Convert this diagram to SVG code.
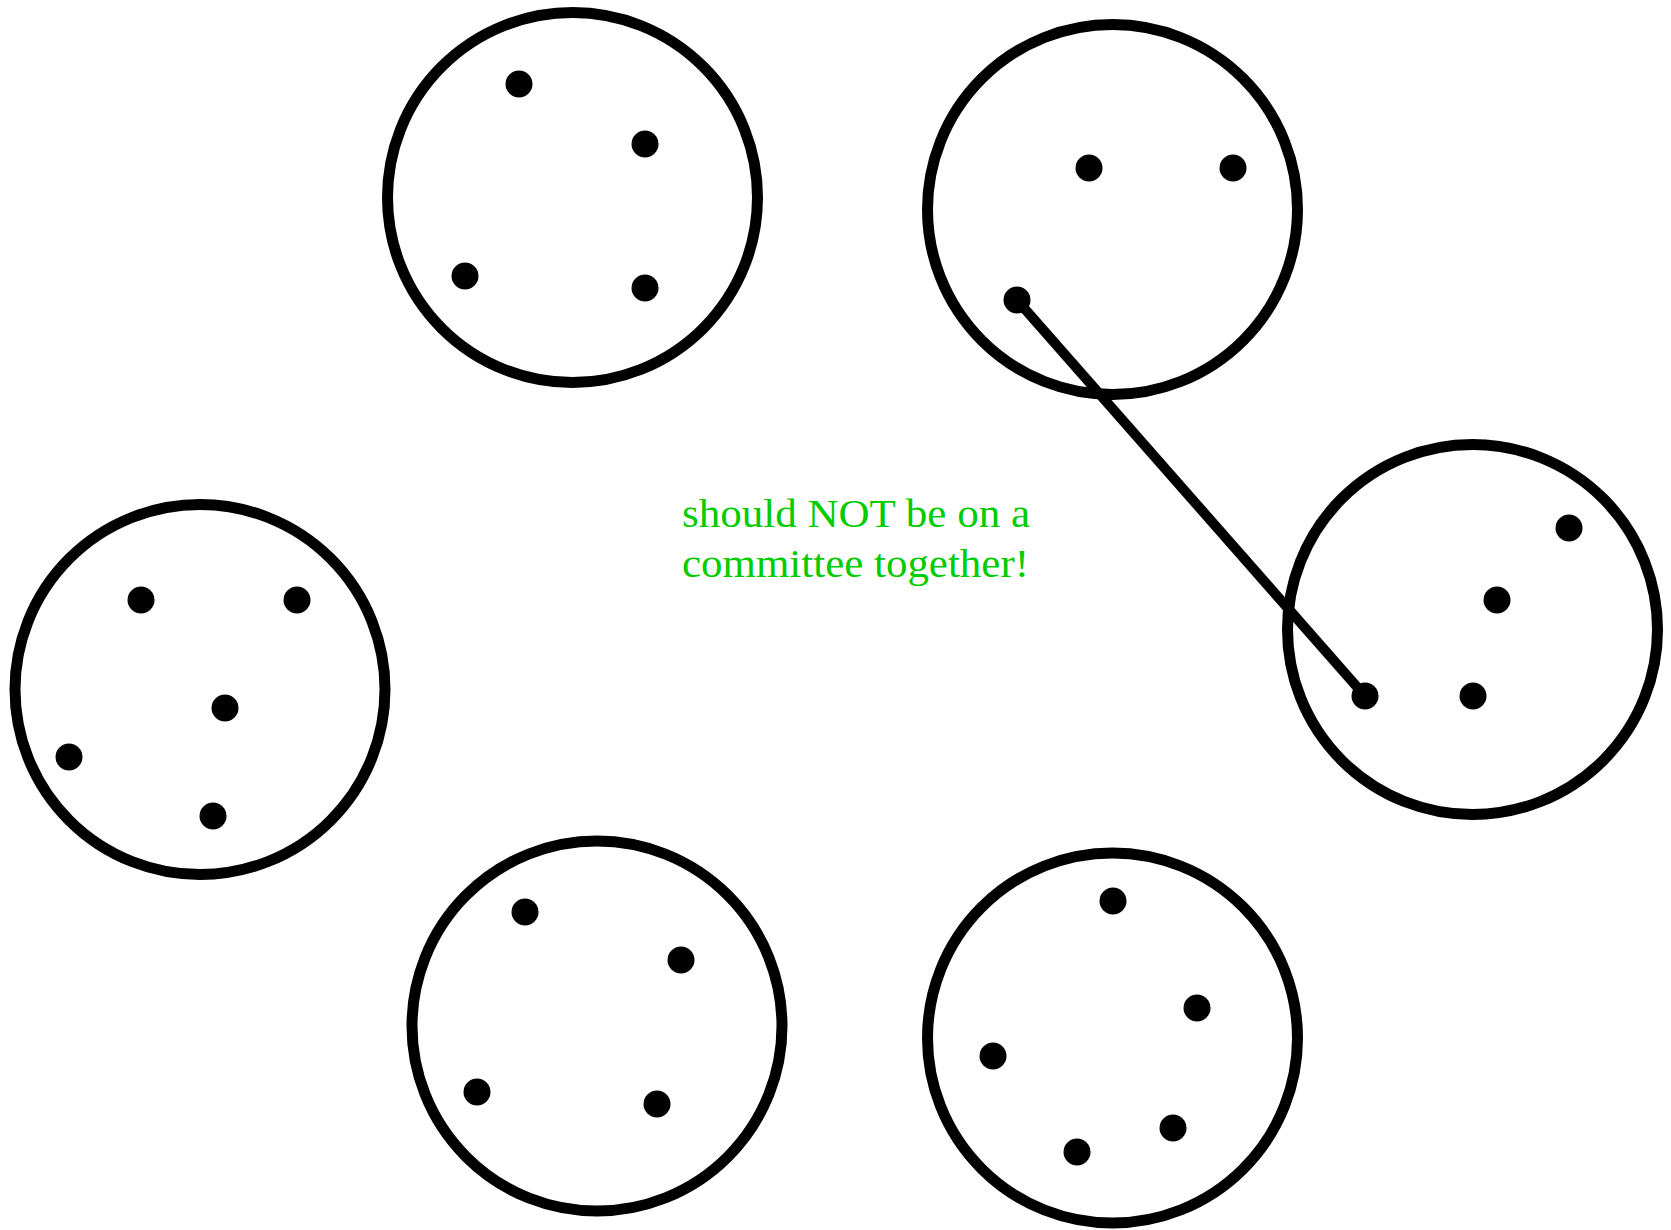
<svg xmlns="http://www.w3.org/2000/svg" width="1671" height="1230" viewBox="0 0 1671 1230">
<style>
.ring{fill:none;stroke:#000;stroke-width:11}
.dot{fill:#000}
.edge{stroke:#000;stroke-width:10;fill:none}
.lbl{font-family:"Liberation Serif","Times New Roman",serif;font-size:40px;fill:#00cc00}
</style>
<rect width="1671" height="1230" fill="#fff"/>
<g id="connectors">
<line class="edge" x1="1017" y1="300" x2="1365" y2="696"/>
</g>
<g id="group-top">
<circle class="ring" cx="572.5" cy="197.5" r="185"/>
<circle class="dot" cx="519" cy="84" r="13.5"/>
<circle class="dot" cx="645" cy="144" r="13.5"/>
<circle class="dot" cx="465" cy="276" r="13.5"/>
<circle class="dot" cx="645" cy="288" r="13.5"/>
</g>
<g id="group-topright">
<circle class="ring" cx="1112.5" cy="209.5" r="185"/>
<circle class="dot" cx="1089" cy="168" r="13.5"/>
<circle class="dot" cx="1233" cy="168" r="13.5"/>
<circle class="dot" cx="1017" cy="300" r="13.5"/>
</g>
<g id="group-left">
<circle class="ring" cx="200" cy="689.5" r="185"/>
<circle class="dot" cx="141" cy="600" r="13.5"/>
<circle class="dot" cx="297" cy="600" r="13.5"/>
<circle class="dot" cx="225" cy="708" r="13.5"/>
<circle class="dot" cx="69" cy="757" r="13.5"/>
<circle class="dot" cx="213" cy="816" r="13.5"/>
</g>
<g id="group-right">
<circle class="ring" cx="1472.5" cy="629.5" r="185"/>
<circle class="dot" cx="1569" cy="528" r="13.5"/>
<circle class="dot" cx="1497" cy="600" r="13.5"/>
<circle class="dot" cx="1473" cy="696" r="13.5"/>
<circle class="dot" cx="1365" cy="696" r="13.5"/>
</g>
<g id="group-bottom">
<circle class="ring" cx="597" cy="1026" r="185"/>
<circle class="dot" cx="525" cy="912" r="13.5"/>
<circle class="dot" cx="681" cy="960" r="13.5"/>
<circle class="dot" cx="477" cy="1092" r="13.5"/>
<circle class="dot" cx="657" cy="1104" r="13.5"/>
</g>
<g id="group-bottomright">
<circle class="ring" cx="1112.5" cy="1038" r="185"/>
<circle class="dot" cx="1113" cy="901" r="13.5"/>
<circle class="dot" cx="1197" cy="1008" r="13.5"/>
<circle class="dot" cx="993" cy="1056" r="13.5"/>
<circle class="dot" cx="1173" cy="1128" r="13.5"/>
<circle class="dot" cx="1077" cy="1152" r="13.5"/>
</g>
<g id="label">
<text class="lbl" x="682" y="527" textLength="348" lengthAdjust="spacingAndGlyphs">should NOT be on a</text>
<text class="lbl" x="682" y="577" textLength="347" lengthAdjust="spacingAndGlyphs">committee together!</text>
</g>
</svg>
